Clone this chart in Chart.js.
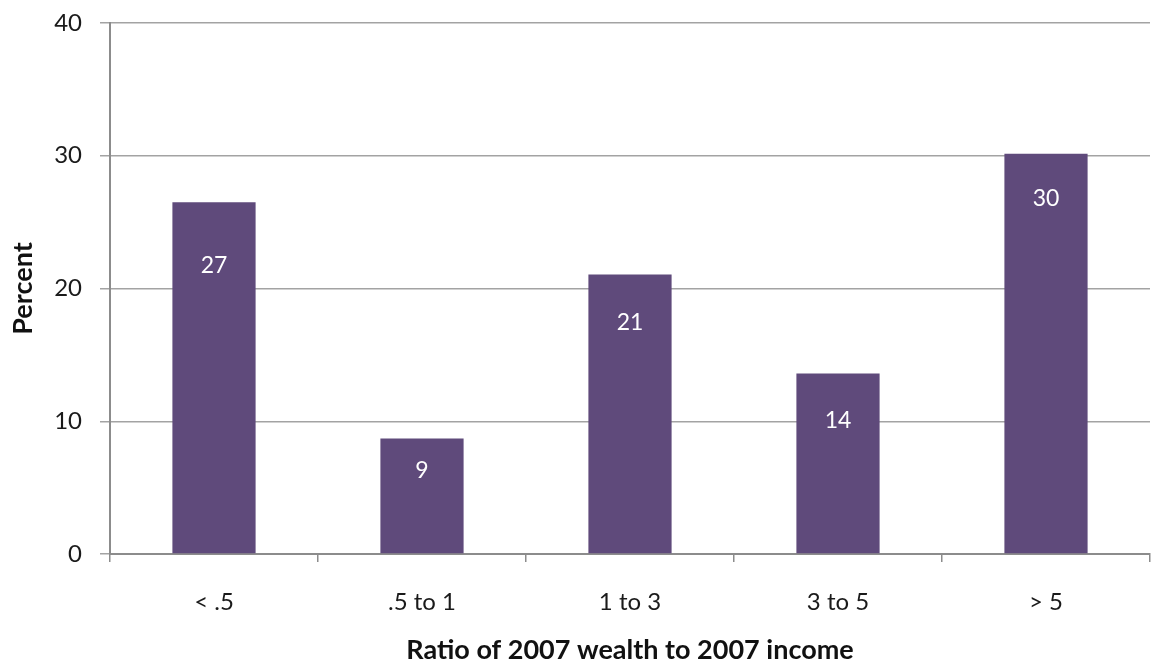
<!DOCTYPE html>
<html>
<head>
<meta charset="utf-8">
<script src="https://cdn.jsdelivr.net/npm/chart.js@4/dist/chart.umd.min.js"></script>
<style>
  html, body { margin: 0; padding: 0; background: #ffffff; }
  #wrap { width: 1154px; height: 666px; position: relative; }
</style>
</head>
<body>
<div id="wrap"><canvas id="c" width="1154" height="666"></canvas></div>
<script>
// ---- Data ----
const categories = ['< .5', '.5 to 1', '1 to 3', '3 to 5', '> 5'];
const percentValues = [26.5, 8.7, 21.05, 13.6, 30.15];
const valueLabels = ['27', '9', '21', '14', '30'];
const yTicks = [0, 10, 20, 30, 40];

// ---- Styling (label offsets from bar top, px) ----
const labelOffsets = [63, 32, 48, 47, 45];

const FONT = 'Lato, "Open Sans", sans-serif';

const barLabels = {
  id: 'barLabels',
  afterDatasetsDraw(chart) {
    const ctx = chart.ctx;
    const meta = chart.getDatasetMeta(0);
    ctx.save();
    ctx.fillStyle = '#ffffff';
    ctx.font = '23px ' + FONT;
    ctx.textAlign = 'center';
    ctx.textBaseline = 'middle';
    meta.data.forEach((bar, i) => {
      ctx.fillText(valueLabels[i], bar.x, bar.y + labelOffsets[i]);
    });
    ctx.restore();
  }
};

new Chart(document.getElementById('c'), {
  type: 'bar',
  data: {
    labels: categories,
    datasets: [{
      data: percentValues,
      backgroundColor: '#5f4a7b',
      borderWidth: 0,
      barPercentage: 0.4,
      categoryPercentage: 1.0
    }]
  },
  options: {
    responsive: false,
    animation: false,
    devicePixelRatio: 1,
    layout: { padding: { top: 23, right: 4, left: 0, bottom: 0 } },
    plugins: { legend: { display: false }, tooltip: { enabled: false } },
    scales: {
      x: {
        grid: {
          display: true,
          drawOnChartArea: false,
          drawTicks: true,
          tickLength: 8,
          color: '#8c8c8c',
          lineWidth: 1.5,
          offset: true
        },
        border: { display: true, color: '#8c8c8c', width: 2 },
        ticks: { color: '#1a1a1a', font: { family: FONT, size: 24 }, padding: 26 },
        title: {
          display: true,
          text: 'Ratio of 2007 wealth to 2007 income',
          color: '#111111',
          font: { family: FONT, size: 27, weight: 'bold' },
          padding: { top: 8, bottom: 0 }
        },
        afterFit(scale) { scale.height = 112; scale.paddingLeft = 0; scale.paddingRight = 0; }
      },
      y: {
        min: 0,
        max: 40,
        afterBuildTicks(scale) { scale.ticks = yTicks.map(v => ({ value: v })); },
        grid: {
          color: '#a3a3a3',
          lineWidth: 1.5,
          tickLength: 10,
          drawTicks: true
        },
        border: { display: true, color: '#8c8c8c', width: 2 },
        ticks: { color: '#1a1a1a', font: { family: FONT, size: 24 }, padding: 18 },
        title: {
          display: true,
          text: 'Percent',
          color: '#111111',
          font: { family: FONT, size: 27, weight: 'bold' },
          padding: { top: 7, bottom: 0 }
        },
        afterFit(scale) { scale.width = 110; scale.paddingTop = 0; scale.paddingBottom = 0; }
      }
    }
  },
  plugins: [barLabels]
});
</script>
</body>
</html>
